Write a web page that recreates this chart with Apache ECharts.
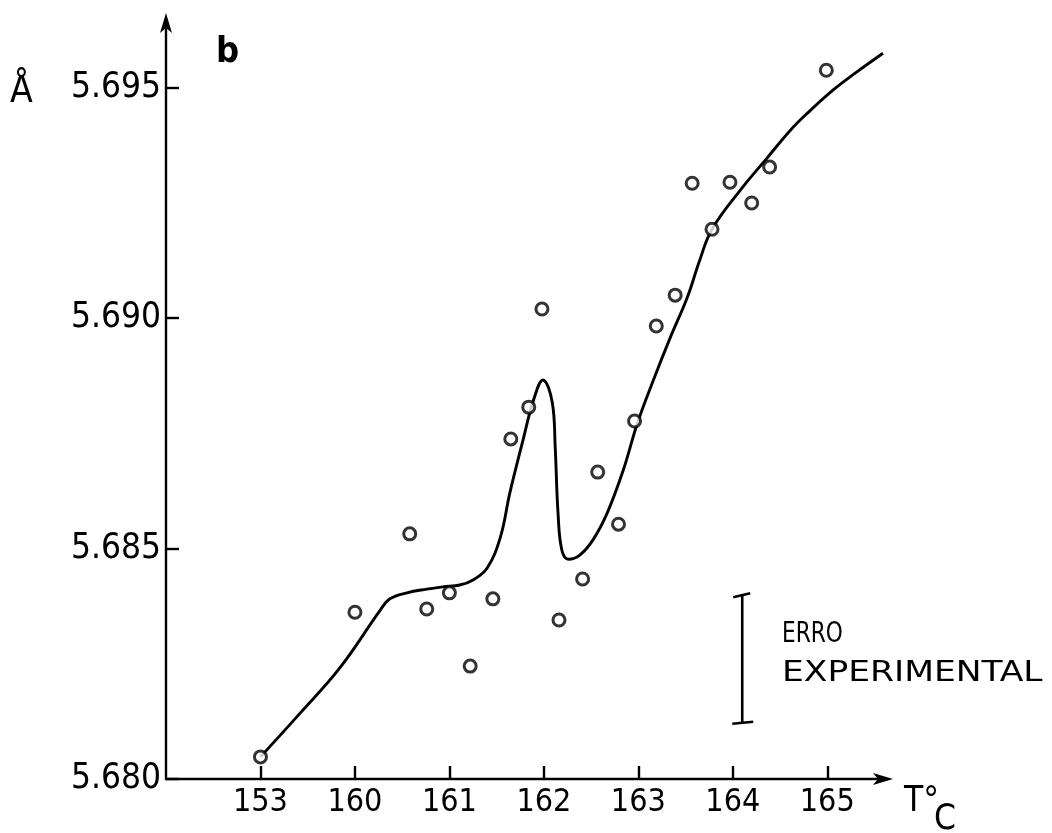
<!DOCTYPE html>
<html>
<head>
<meta charset="utf-8">
<script src="https://cdn.jsdelivr.net/npm/echarts@6/dist/echarts.min.js"></script>
<style>
  html, body { margin: 0; padding: 0; background: #fff; }
  #chart { width: 1052px; height: 833px; }
</style>
</head>
<body>
<div id="chart"></div>
<script>
// Temperature axis is broken between 153 and 160 °C: the 153 °C reading sits
// one unit to the left of 160 on the drawn scale (axis position 159).
const tempTickPositions = [159, 160, 161, 162, 163, 164, 165];
const tempTickLabels = ['153', '160', '161', '162', '163', '164', '165'];

// Lattice parameter ticks (Å)
const latticeTicks = [5.680, 5.685, 5.690, 5.695];

// Measured points: axis position and lattice parameter
const measuredT = [159.00, 160.00, 160.58, 160.76, 161.00, 161.22, 161.46, 161.65,
  161.84, 161.98, 162.16, 162.41, 162.57, 162.79, 162.96, 163.19, 163.39, 163.57,
  163.78, 163.97, 164.20, 164.39, 164.99];
const measuredA = [5.68048, 5.68362, 5.68532, 5.68369, 5.68404, 5.68245, 5.68391, 5.68738,
  5.68807, 5.69020, 5.68345, 5.68434, 5.68666, 5.68553, 5.68777, 5.68983, 5.69050, 5.69293,
  5.69193, 5.69295, 5.69250, 5.69328, 5.69538];

// Hand-drawn trend curve through the measurements
const curveT = [159.00, 159.42, 159.84, 160.27, 160.37, 160.55, 160.76, 160.93, 161.11,
  161.25, 161.40, 161.54, 161.64, 161.78, 161.89, 161.99, 162.09, 162.12, 162.15, 162.19,
  162.26, 162.38, 162.52, 162.67, 162.84, 162.99, 163.16, 163.34, 163.52, 163.65, 163.78,
  164.08, 164.36, 164.61, 164.79, 165.06, 165.31, 165.59];
const curveA = [5.68048, 5.68143, 5.68241, 5.68367, 5.68391, 5.68404, 5.68412, 5.68417, 5.68421,
  5.68432, 5.68458, 5.68525, 5.68621, 5.68736, 5.68822, 5.68866, 5.68816, 5.68720, 5.68577, 5.68497,
  5.68477, 5.68486, 5.68519, 5.68577, 5.68670, 5.68772, 5.68866, 5.68959, 5.69046, 5.69126, 5.69193,
  5.69278, 5.69347, 5.69408, 5.69445, 5.69495, 5.69534, 5.69575];

// Experimental error bar: axis position, lower and upper value
const errorBar = [[164.10, 5.68122, 5.68399]];

const narrow = "'Liberation Sans Narrow', 'DejaVu Sans Condensed', 'Liberation Sans', sans-serif";

const chart = echarts.init(document.getElementById('chart'), null, { renderer: 'canvas' });

const axisLineStyle = { color: '#000', width: 2.4 };

chart.setOption({
  animation: false,
  backgroundColor: '#fff',
  grid: { left: 166, right: 169, top: 21, bottom: 54 },
  xAxis: {
    type: 'value',
    min: 158,
    max: 165.59,
    axisLine: { lineStyle: axisLineStyle, symbol: ['none', 'arrow'], symbolSize: [9, 20], symbolOffset: [0, 10] },
    axisTick: { inside: true, length: 13, lineStyle: { color: '#000', width: 2.4 }, customValues: tempTickPositions },
    axisLabel: {
      customValues: tempTickPositions,
      formatter: v => tempTickLabels[tempTickPositions.indexOf(Math.round(v))] || '',
      color: '#000', fontSize: 32, fontFamily: narrow, margin: 8
    },
    splitLine: { show: false }
  },
  yAxis: {
    type: 'value',
    min: 5.680,
    max: 5.69645,
    axisLine: { lineStyle: axisLineStyle, symbol: ['none', 'arrow'], symbolSize: [9, 20], symbolOffset: [0, 8] },
    axisTick: { inside: true, length: 13, lineStyle: { color: '#000', width: 2.4 }, customValues: latticeTicks },
    axisLabel: {
      customValues: latticeTicks,
      formatter: v => v.toFixed(3),
      color: '#000', fontSize: 35, fontFamily: narrow, margin: 5
    },
    splitLine: { show: false }
  },
  series: [
    {
      type: 'line',
      data: curveT.map((t, i) => [t, curveA[i]]),
      showSymbol: false,
      smooth: 0.4,
      clip: false,
      lineStyle: { color: '#000', width: 2.9 },
      z: 2
    },
    {
      type: 'scatter',
      data: measuredT.map((t, i) => [t, measuredA[i]]),
      symbol: 'circle',
      symbolSize: 12,
      itemStyle: { color: '#fff', borderColor: '#000', borderWidth: 3 },
      z: 3
    },
    {
      type: 'custom',
      data: errorBar,
      renderItem: (params, api) => {
        const x = api.value(0);
        const lo = api.coord([x, api.value(1)]);
        const hi = api.coord([x, api.value(2)]);
        const st = { stroke: '#000', lineWidth: 2.6 };
        return {
          type: 'group',
          children: [
            { type: 'line', shape: { x1: lo[0], y1: lo[1], x2: hi[0], y2: hi[1] }, style: st },
            { type: 'line', shape: { x1: hi[0] - 9, y1: hi[1] + 2, x2: hi[0] + 8, y2: hi[1] - 2 }, style: st },
            { type: 'line', shape: { x1: lo[0] - 10, y1: lo[1] + 1, x2: lo[0] + 11, y2: lo[1] - 1 }, style: st }
          ]
        };
      },
      z: 2
    }
  ],
  graphic: [
    { type: 'text', x: 10, y: 74, style: { text: 'Å', font: '37px ' + narrow, fill: '#000', textVerticalAlign: 'top' } },
    { type: 'text', x: 216, y: 35, style: { text: 'b', font: 'bold 36px ' + narrow, fill: '#000', textVerticalAlign: 'top' } },
    { type: 'text', x: 904, y: 784, style: { text: 'T°', font: '35px ' + narrow, fill: '#000', textVerticalAlign: 'top' } },
    { type: 'text', x: 934, y: 802, style: { text: 'C', font: '35px ' + narrow, fill: '#000', textVerticalAlign: 'top' } },
    { type: 'text', x: 782, y: 621, scaleX: 0.86, style: { text: 'ERRO', font: '28px ' + narrow, fill: '#000', textVerticalAlign: 'top' } },
    { type: 'text', x: 782, y: 660, scaleX: 1.37, style: { text: 'EXPERIMENTAL', font: '28px ' + narrow, fill: '#000', textVerticalAlign: 'top' } }
  ]
});
</script>
</body>
</html>
